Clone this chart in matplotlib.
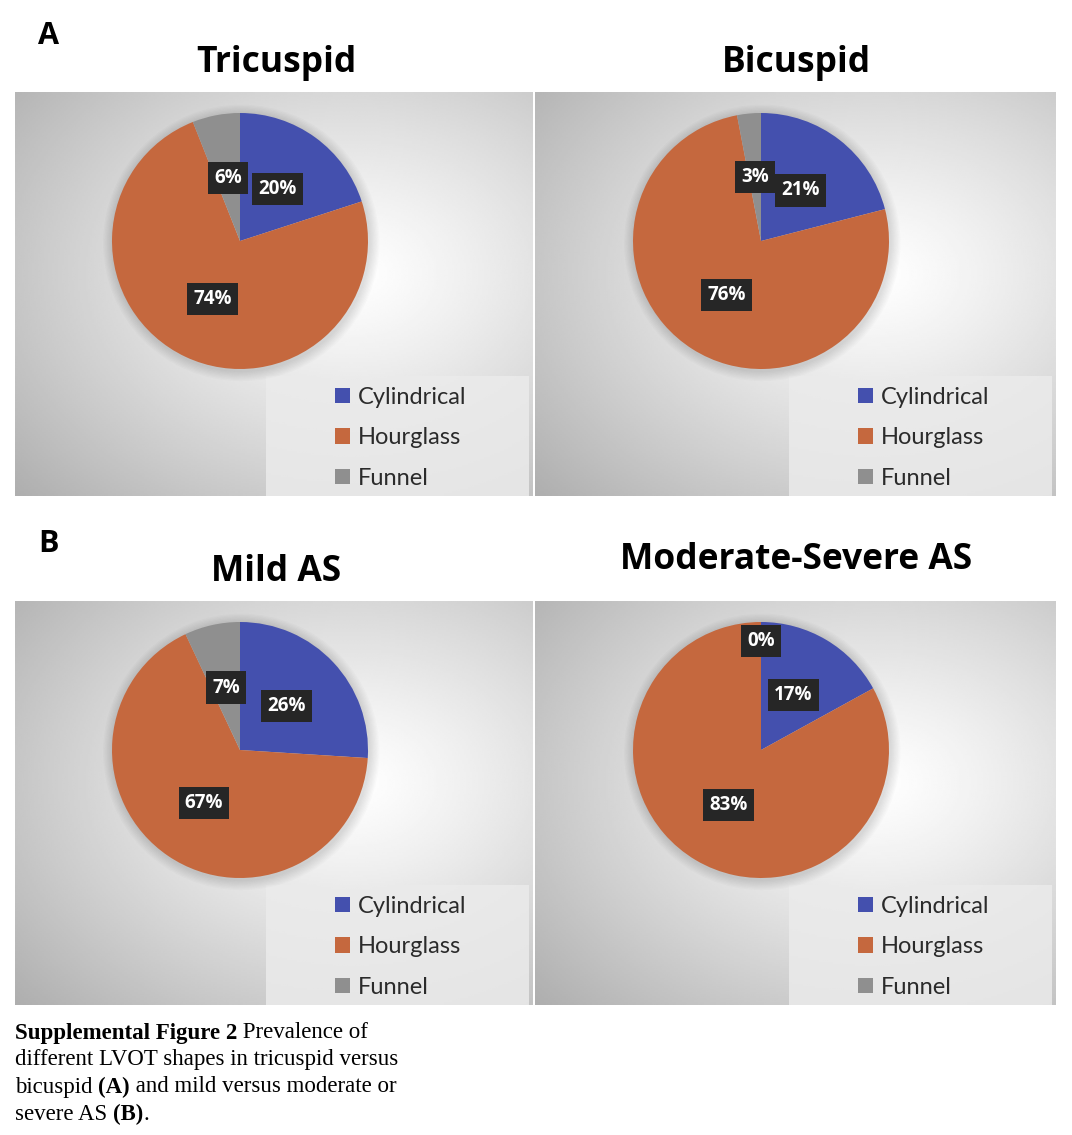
import numpy as np
import matplotlib
matplotlib.use('Agg')
import matplotlib.pyplot as plt
from matplotlib.patches import Rectangle, Circle

W, H = 1072, 1135

categories = ['Cylindrical', 'Hourglass', 'Funnel']
titles = ['Tricuspid', 'Bicuspid', 'Mild AS', 'Moderate-Severe AS']
tricuspid = [20, 74, 6]
bicuspid = [21, 76, 3]
mild_as = [26, 67, 7]
mod_sev_as = [17, 83, 0]
series = [tricuspid, bicuspid, mild_as, mod_sev_as]

colors = ['#4450AE', '#C5683E', '#8F8F8F']

fig = plt.figure(figsize=(W / 100, H / 100), dpi=100)
fig.patch.set_facecolor('white')


def px_axes(x0, y0, w, h, **kw):
    """axes placed by pixel box (top-left origin)"""
    return fig.add_axes([x0 / W, 1 - (y0 + h) / H, w / W, h / H], **kw)


# radial gradient for the panel backgrounds
gy, gx = np.mgrid[0:1:200j, 0:1:260j]
dist = np.sqrt(((gx - 0.65) / 0.9) ** 2 + ((gy - 0.45) / 0.85) ** 2)
grad = np.clip(1.0 - 0.33 * dist ** 1.2, 0, 1)

panels = [(15, 92, 518, 404), (535, 92, 521, 404),
          (15, 601, 518, 404), (535, 601, 521, 404)]
pie_centers = [(240, 241), (761, 241), (240, 750), (761, 750)]
title_pos = [(276, 63), (796, 63), (276, 572), (796, 560)]
R = 128

for i in range(4):
    x0, y0, w, h = panels[i]
    bg = px_axes(x0, y0, w, h)
    bg.imshow(grad, cmap='gray', vmin=0, vmax=1, aspect='auto',
              extent=[0, 1, 0, 1], interpolation='bilinear')
    bg.set_xlim(0, 1)
    bg.set_ylim(0, 1)
    bg.axis('off')

    # legend box
    lx0 = (w - 267) / w
    bg.add_patch(Rectangle((lx0, 0.0), 1 - lx0 - 4 / w, 120 / h,
                           facecolor='#ebebeb', alpha=0.85, edgecolor='none'))

    cx, cy = pie_centers[i]
    pad = 14
    ax = px_axes(cx - R - pad, cy - R - pad, 2 * (R + pad), 2 * (R + pad))

    # soft shadow around the pie
    for k in range(8):
        ax.add_patch(Circle((0.01, -0.015), 1.0 + 0.01 * (k + 1),
                            color='black', alpha=0.017, lw=0))

    vals = series[i]
    wedges, _ = ax.pie(vals, colors=colors, startangle=90, counterclock=False,
                       radius=1.0, wedgeprops=dict(linewidth=0))
    lim = (R + pad) / R
    ax.set_xlim(-lim, lim)
    ax.set_ylim(-lim, lim)
    ax.set_aspect('equal')
    ax.axis('off')

    for j, wdg in enumerate(wedges):
        mid = np.deg2rad((wdg.theta1 + wdg.theta2) / 2)
        r = 0.5 if vals[j] > 0 else 0.85
        tx, ty = r * np.cos(mid), r * np.sin(mid)
        ax.text(tx, ty, f'{vals[j]}%', ha='center', va='center',
                fontsize=13.5, fontweight='bold', family='Open Sans', color='white',
                bbox=dict(boxstyle='square,pad=0.33', fc='#262626', ec='none'))

    leg = bg.legend(wedges, categories, loc='upper left',
                    bbox_to_anchor=((w - 267 + 62) / w, 120 / h - 4 / h),
                    frameon=False, prop=dict(family='Lato', size=17),
                    handlelength=0.62, handleheight=0.62, handletextpad=0.35,
                    labelspacing=0.82, borderaxespad=0, borderpad=0.3)
    for t in leg.get_texts():
        t.set_color('#2b2b2b')

    tx, ty = title_pos[i]
    fig.text(tx / W, 1 - ty / H, titles[i], ha='center', va='center',
             fontsize=25.5, fontweight='bold', family='Open Sans', color='black')

fig.text(38 / W, 1 - 36 / H, 'A', ha='left', va='center', fontsize=22,
         fontweight='bold', family='Open Sans')
fig.text(38 / W, 1 - 544 / H, 'B', ha='left', va='center', fontsize=22,
         fontweight='bold', family='Open Sans')

# caption
cap_fs = 16.5
lines = [
    [('Supplemental Figure 2', 'bold'), (' Prevalence of', 'normal')],
    [('different LVOT shapes in tricuspid versus', 'normal')],
    [('bicuspid ', 'normal'), ('(A)', 'bold'), (' and mild versus moderate or', 'normal')],
    [('severe AS ', 'normal'), ('(B)', 'bold'), ('.', 'normal')],
]
renderer = fig.canvas.get_renderer()
for li, parts in enumerate(lines):
    x = 15
    y = 1033 + li * 27
    for s, wt in parts:
        t = fig.text(x / W, 1 - y / H, s, ha='left', va='center', fontsize=cap_fs,
                     fontweight=wt, family='Liberation Serif', color='black')
        bb = t.get_window_extent(renderer=renderer)
        x += bb.width

fig.savefig('out.png', dpi=100)
